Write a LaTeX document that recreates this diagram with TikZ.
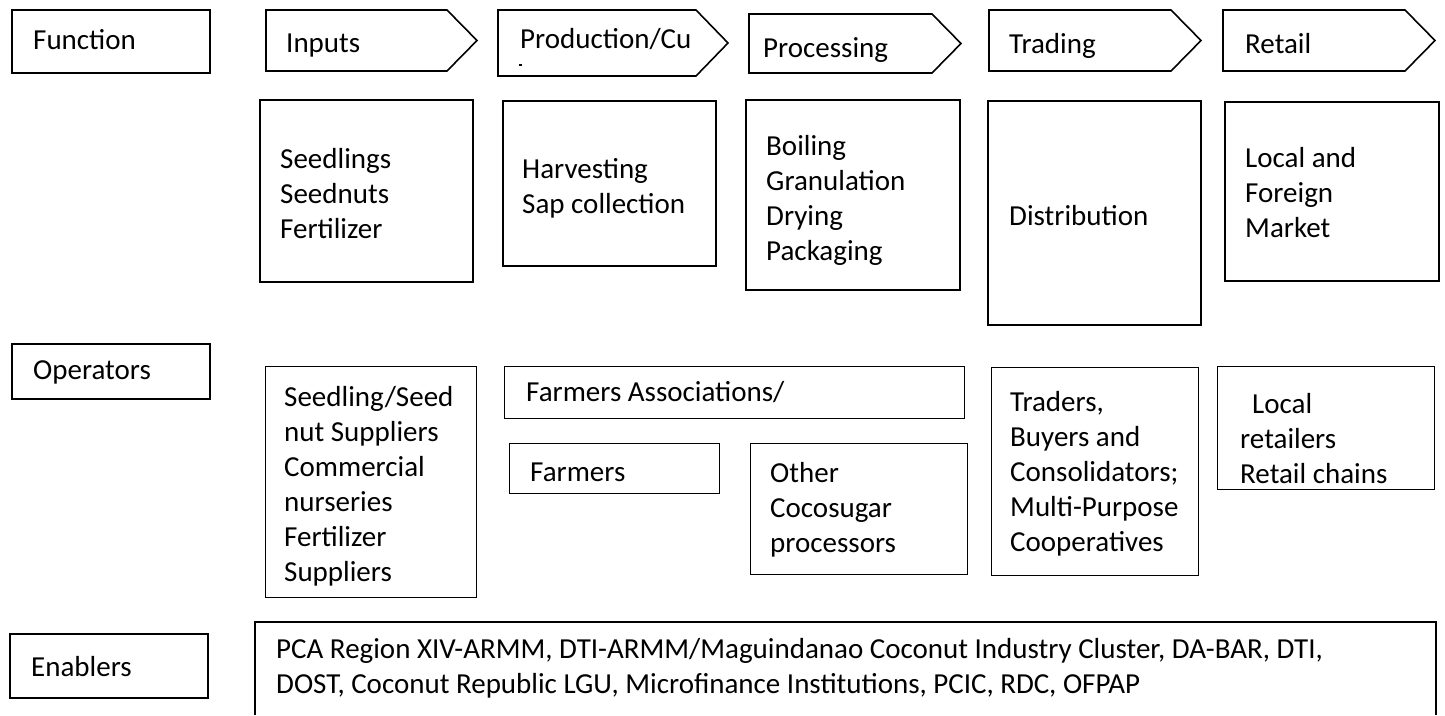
\documentclass[tikz,border=0pt]{standalone}
\usepackage{fontspec}
\setmainfont{Carlito}
\newcommand{\firstln}{\rule{0pt}{23pt}}
\begin{document}
\begin{tikzpicture}[x=1pt,y=-1pt,
  lbl/.style={draw=black,line width=2.4pt,minimum width=198pt,anchor=north west,inner sep=0pt},
  fbox/.style={draw=black,line width=1.8pt,anchor=north west,inner sep=0pt},
  obox/.style={draw=black,line width=1.4pt,anchor=north west,inner sep=0pt},
  chev/.style={draw=black,line width=1.6pt,line join=miter},
  txt/.style={anchor=north west,inner sep=0pt,align=left,font=\fontsize{29}{35}\selectfont}
]
\useasboundingbox (0,0) rectangle (1445,715);

% label boxes
\node[lbl,minimum height=63pt] (funcbox) at (11,9) {};
\node[txt] (functxt) at (33,26) {\firstln Function};
\node[lbl,minimum height=55pt] (opbox) at (11,343) {};
\node[txt] (optxt) at (33,356) {\firstln Operators};
\node[lbl,minimum height=64pt] (enbox) at (9,633) {};
\node[txt] (entxt) at (31,653) {\firstln Enablers};

% chevrons
\draw[chev] (266,10) -- (447,10) -- (477,40.5) -- (447,71) -- (266,71) -- cycle;
\node[txt] (c1) at (286,29) {\firstln Inputs};
\draw[chev] (498,10) -- (696,10) -- (728,43) -- (696,76) -- (498,76) -- cycle;
\node[txt] (c2) at (520,25) {\firstln Production/Cu};
\draw[line width=1.2pt] (519,65) -- (522,65);
\draw[chev] (749,14) -- (932,14) -- (961,43.5) -- (932,73) -- (749,73) -- cycle;
\node[txt] (c3) at (763,34) {\firstln Processing};
\draw[chev] (989,10) -- (1171,10) -- (1201,40.5) -- (1171,71) -- (989,71) -- cycle;
\node[txt] (c4) at (1009,30) {\firstln Trading};
\draw[chev] (1223,10) -- (1405,10) -- (1435,40.5) -- (1405,71) -- (1223,71) -- cycle;
\node[txt] (c5) at (1245,30) {\firstln Retail};

% function boxes
\node[fbox,minimum width=213pt,minimum height=182pt] (f1) at (259,99) {};
\node[txt] (f1t) at (280,145) {\firstln Seedlings\\Seednuts\\Fertilizer};
\node[fbox,minimum width=213pt,minimum height=165pt] (f2) at (502,100) {};
\node[txt] (f2t) at (522,155) {\firstln Harvesting\\Sap collection};
\node[fbox,minimum width=214pt,minimum height=190pt] (f3) at (745,99) {};
\node[txt] (f3t) at (766,132) {\firstln Boiling\\Granulation\\Drying\\Packaging};
\node[fbox,minimum width=213pt,minimum height=224pt] (f4) at (987,100) {};
\node[txt] (f4t) at (1009,202) {\firstln Distribution};
\node[fbox,minimum width=214pt,minimum height=179pt] (f5) at (1224,101) {};
\node[txt] (f5t) at (1245,144) {\firstln Local and\\Foreign\\Market};

% operators
\node[obox,minimum width=211pt,minimum height=231pt] (o1) at (265,366) {};
\node[txt] (o1t) at (284,383) {\firstln Seedling/Seed\\nut Suppliers\\Commercial\\nurseries\\Fertilizer\\Suppliers};
\node[obox,minimum width=460pt,minimum height=52pt] (o2) at (504,366) {};
\node[txt] (o2t) at (526,378) {\firstln Farmers Associations/};
\node[obox,minimum width=210pt,minimum height=50pt] (o3) at (509,443) {};
\node[txt] (o3t) at (530,458) {\firstln Farmers};
\node[obox,minimum width=217pt,minimum height=131pt] (o4) at (750,443) {};
\node[txt] (o4t) at (770,459) {\firstln Other\\Cocosugar\\processors};
\node[obox,minimum width=207pt,minimum height=208pt] (o5) at (991,367) {};
\node[txt] (o5t) at (1010,388) {\firstln Traders,\\Buyers and\\Consolidators;\\Multi-Purpose\\Cooperatives};
\node[obox,minimum width=217pt,minimum height=123pt] (o6) at (1217,366) {};
\node[txt] (o6t) at (1240,390) {\firstln \hspace{12pt}Local\\retailers\\Retail chains};

% enablers
\coordinate (ebl) at (255,715);
\coordinate (ebr) at (1436,715);
\draw[line width=1.4pt] (ebl) -- (255,622) -- (1436,622) -- (ebr);
\node[txt] (e1t) at (276,635) {\firstln PCA Region XIV-ARMM, DTI-ARMM/Maguindanao Coconut Industry Cluster, DA-BAR, DTI,\\DOST, Coconut Republic LGU, Microfinance Institutions, PCIC, RDC, OFPAP};
\end{tikzpicture}
\end{document}
